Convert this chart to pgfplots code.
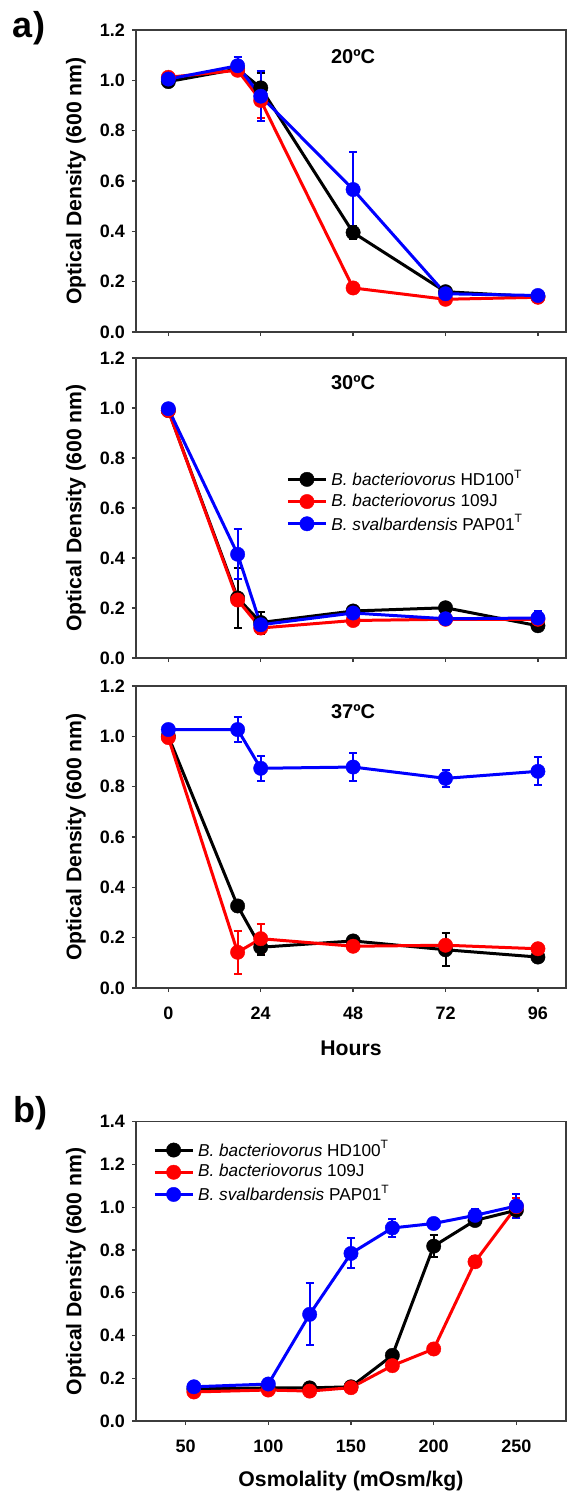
\documentclass[border=0pt]{standalone}
\usepackage{pgfplots}
\usepackage{pgfplotstable}
\pgfplotsset{compat=1.18}
\usepackage{fontspec}
\setmainfont{Liberation Sans}
\definecolor{axgray}{RGB}{60,60,60}
\definecolor{cblue}{RGB}{0,0,255}
\definecolor{cred}{RGB}{255,0,0}

% 20 C
\pgfplotstableread{
x y e
0 0.995 0.01
18 1.045 0.02
24 0.97 0.06
48 0.395 0.025
72 0.16 0.01
96 0.14 0.01
}\aBk
\pgfplotstableread{
x y e
0 1.012 0.01
18 1.04 0.015
24 0.92 0.07
48 0.175 0.01
72 0.13 0.01
96 0.138 0.01
}\aRd
\pgfplotstableread{
x y e
0 1.005 0.01
18 1.058 0.035
24 0.937 0.1
48 0.566 0.15
72 0.152 0.01
96 0.145 0.01
}\aBl
% 30 C
\pgfplotstableread{
x y e
0 0.99 0.01
18 0.24 0.12
24 0.142 0.044
48 0.188 0.01
72 0.201 0.01
96 0.129 0.01
}\bBk
\pgfplotstableread{
x y e
0 0.99 0.01
18 0.232 0.02
24 0.12 0.01
48 0.15 0.01
72 0.155 0.01
96 0.155 0.01
}\bRd
\pgfplotstableread{
x y e
0 0.997 0.01
18 0.415 0.1
24 0.133 0.01
48 0.18 0.01
72 0.157 0.01
96 0.16 0.03
}\bBl
% 37 C
\pgfplotstableread{
x y e
0 1.0 0.01
18 0.326 0.01
24 0.162 0.03
48 0.187 0.015
72 0.152 0.066
96 0.123 0.01
}\cBk
\pgfplotstableread{
x y e
0 0.995 0.01
18 0.142 0.085
24 0.196 0.058
48 0.166 0.01
72 0.17 0.01
96 0.156 0.01
}\cRd
\pgfplotstableread{
x y e
0 1.027 0.01
18 1.027 0.048
24 0.873 0.05
48 0.878 0.057
72 0.833 0.035
96 0.861 0.055
}\cBl
% osmolality
\pgfplotstableread{
x y e
55 0.15 0.01
100 0.155 0.01
125 0.155 0.01
150 0.16 0.01
175 0.307 0.01
200 0.818 0.05
225 0.938 0.02
250 0.986 0.035
}\dBk
\pgfplotstableread{
x y e
55 0.136 0.01
100 0.145 0.01
125 0.14 0.01
150 0.156 0.01
175 0.259 0.01
200 0.337 0.01
225 0.745 0.025
250 1.003 0.04
}\dRd
\pgfplotstableread{
x y e
55 0.16 0.01
100 0.173 0.01
125 0.499 0.145
150 0.784 0.07
175 0.903 0.04
200 0.924 0.015
225 0.962 0.03
250 1.006 0.058
}\dBl

\pgfplotsset{
  panel/.style={
    scale only axis, width=215pt,
    axis line style={axgray, line width=0.7pt},
    tick style={axgray, line width=0.7pt},
    tick align=outside, major tick length=2pt,
    xtick pos=bottom, ytick pos=left,
    /pgf/number format/assume math mode=true,
    tick label style={font=\bfseries\fontsize{9}{10}\selectfont},
    xticklabel style={yshift=-4pt},
    label style={font=\bfseries\fontsize{10.6}{12}\selectfont},
    yticklabel style={/pgf/number format/.cd, fixed, fixed zerofill, precision=1},
    ylabel={Optical Density (600 nm)},
    ylabel style={at={(axis description cs:-0.1395,0.5)}, anchor=center},
    legend cell align=left,
    legend image code/.code={\draw[mark repeat=2,mark phase=2] plot coordinates {(0pt,0pt) (9.5pt,0pt) (19pt,0pt)};},
  },
  hpanel/.style={panel, xmin=-8.4, xmax=103.3, xtick={0,24,48,72,96},
    ymin=0, ymax=1.2, ytick={0,0.2,0.4,0.6,0.8,1.0,1.2}},
  ser/.style={color=#1, line width=1.5pt, line join=round, mark=*, mark size=3.6pt,
    mark options={solid, fill=#1, draw=#1, line width=0.2pt},
    error bars/.cd, y dir=both, y explicit,
    error bar style={line width=1pt, #1},
    error mark options={rotate=90, mark size=2pt, line width=1pt, #1}},
}

\begin{document}
\begin{tikzpicture}
\useasboundingbox (0,0) rectangle (283.5pt,-746pt);

\node[font=\bfseries\fontsize{18}{20}\selectfont] at (14.5pt,-14pt) {a)};
\node[font=\bfseries\fontsize{18}{20}\selectfont] at (15pt,-556.5pt) {b)};

% 20 C
\begin{axis}[hpanel, at={(68pt,-15pt)}, anchor=north west, height=151pt, xticklabels={}]
\addplot[ser=black] table[x=x,y=y,y error=e] {\aBk};
\addplot[ser=cred] table[x=x,y=y,y error=e] {\aRd};
\addplot[ser=cblue] table[x=x,y=y,y error=e] {\aBl};
\node[font=\bfseries\fontsize{10}{12}\selectfont] at (axis cs:48,1.095) {20ºC};
\end{axis}

% 30 C
\begin{axis}[hpanel, at={(68pt,-179pt)}, anchor=north west, height=150pt, xticklabels={},
  legend style={at={(rel axis cs:0.335,0.655)}, anchor=north west, draw=none, fill=none,
    font=\fontsize{8.6}{10}\selectfont, row sep=-1.5pt}]
\addplot[ser=black] table[x=x,y=y,y error=e] {\bBk};
\addlegendentry{\textit{B. bacteriovorus} HD100\textsuperscript{T}}
\addplot[ser=cred] table[x=x,y=y,y error=e] {\bRd};
\addlegendentry{\textit{B. bacteriovorus} 109J}
\addplot[ser=cblue] table[x=x,y=y,y error=e] {\bBl};
\addlegendentry{\textit{B. svalbardensis} PAP01\textsuperscript{T}}
\node[font=\bfseries\fontsize{10}{12}\selectfont] at (axis cs:48,1.1) {30ºC};
\end{axis}

% 37 C
\begin{axis}[hpanel, at={(68pt,-343pt)}, anchor=north west, height=151pt,
  xlabel={Hours}, xlabel style={at={(axis description cs:0.5,-0.199)}, anchor=center}]
\addplot[ser=black] table[x=x,y=y,y error=e] {\cBk};
\addplot[ser=cred] table[x=x,y=y,y error=e] {\cRd};
\addplot[ser=cblue] table[x=x,y=y,y error=e] {\cBl};
\node[font=\bfseries\fontsize{10}{12}\selectfont] at (axis cs:48,1.098) {37ºC};
\end{axis}

% osmolality
\begin{axis}[panel, at={(68pt,-560.85pt)}, anchor=north west, height=149.65pt,
  xmin=20, xmax=280, xtick={50,100,150,200,250},
  ymin=0, ymax=1.4, ytick={0,0.2,0.4,0.6,0.8,1.0,1.2,1.4},
  xlabel={Osmolality (mOsm/kg)}, xlabel style={at={(axis description cs:0.5,-0.1995)}, anchor=center},
  legend style={at={(rel axis cs:0.025,0.965)}, anchor=north west, draw=none, fill=none,
    font=\fontsize{8.6}{10}\selectfont, row sep=-1.5pt}]
\addplot[ser=black] table[x=x,y=y,y error=e] {\dBk};
\addlegendentry{\textit{B. bacteriovorus} HD100\textsuperscript{T}}
\addplot[ser=cred] table[x=x,y=y,y error=e] {\dRd};
\addlegendentry{\textit{B. bacteriovorus} 109J}
\addplot[ser=cblue] table[x=x,y=y,y error=e] {\dBl};
\addlegendentry{\textit{B. svalbardensis} PAP01\textsuperscript{T}}
\end{axis}
\end{tikzpicture}
\end{document}
